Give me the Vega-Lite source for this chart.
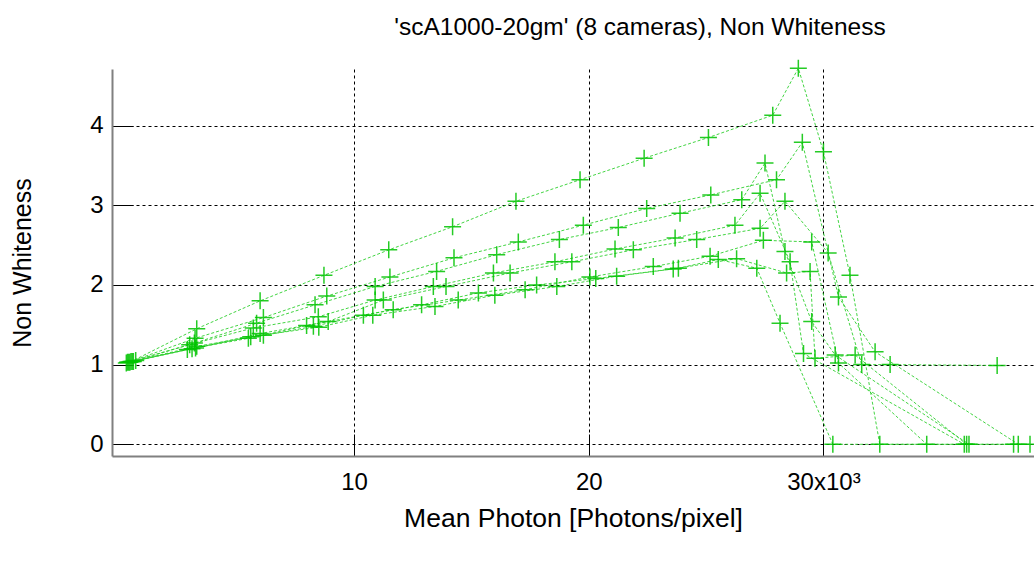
{
  "$schema": "https://vega.github.io/schema/vega-lite/v6.json",
  "autosize": "none",
  "width": 922,
  "height": 387,
  "padding": {"left": 112, "top": 69, "right": 0, "bottom": 105},
  "background": "white",
  "config": {"view": {"stroke": null}, "font": "Liberation Sans"},
  "title": {"text": "'scA1000-20gm' (8 cameras), Non Whiteness", "font": "Liberation Sans", "fontSize": 24.5, "fontWeight": "normal", "color": "black", "anchor": "middle", "dx": 67, "offset": 16},
  "data": {"values": [
    {"s":"A","i":0,"x":450,"y":1.03},{"s":"A","i":1,"x":3300,"y":1.45},{"s":"A","i":2,"x":6000,"y":1.80},{"s":"A","i":3,"x":8720,"y":2.12},{"s":"A","i":4,"x":11480,"y":2.44},{"s":"A","i":5,"x":14200,"y":2.73},{"s":"A","i":6,"x":16900,"y":3.05},{"s":"A","i":7,"x":19630,"y":3.32},{"s":"A","i":8,"x":22360,"y":3.59},{"s":"A","i":9,"x":25100,"y":3.85},{"s":"A","i":10,"x":27840,"y":4.13},{"s":"A","i":11,"x":28930,"y":4.72},{"s":"A","i":12,"x":30000,"y":3.67},{"s":"A","i":13,"x":31130,"y":2.12},{"s":"A","i":14,"x":32400,"y":0},{"s":"A","i":15,"x":38800,"y":0},
    {"s":"B","i":0,"x":500,"y":1.04},{"s":"B","i":1,"x":3230,"y":1.33},{"s":"B","i":2,"x":6140,"y":1.59},{"s":"B","i":3,"x":8840,"y":1.86},{"s":"B","i":4,"x":11530,"y":2.10},{"s":"B","i":5,"x":14260,"y":2.34},{"s":"B","i":6,"x":17000,"y":2.54},{"s":"B","i":7,"x":19770,"y":2.75},{"s":"B","i":8,"x":22470,"y":2.96},{"s":"B","i":9,"x":25200,"y":3.13},{"s":"B","i":10,"x":28000,"y":3.32},{"s":"B","i":11,"x":29100,"y":3.79},{"s":"B","i":12,"x":30640,"y":1.85},{"s":"B","i":13,"x":32200,"y":1.16},{"s":"B","i":14,"x":38300,"y":0},
    {"s":"C","i":0,"x":600,"y":1.04},{"s":"C","i":1,"x":3200,"y":1.27},{"s":"C","i":2,"x":5850,"y":1.52},{"s":"C","i":3,"x":8340,"y":1.75},{"s":"C","i":4,"x":10900,"y":1.98},{"s":"C","i":5,"x":13520,"y":2.17},{"s":"C","i":6,"x":16080,"y":2.38},{"s":"C","i":7,"x":18750,"y":2.57},{"s":"C","i":8,"x":21260,"y":2.72},{"s":"C","i":9,"x":23890,"y":2.90},{"s":"C","i":10,"x":26520,"y":3.07},{"s":"C","i":11,"x":27510,"y":3.53},{"s":"C","i":12,"x":28360,"y":2.42},{"s":"C","i":13,"x":29500,"y":1.54},{"s":"C","i":14,"x":30500,"y":1.12},{"s":"C","i":15,"x":36200,"y":0},
    {"s":"D","i":0,"x":350,"y":1.03},{"s":"D","i":1,"x":3000,"y":1.25},{"s":"D","i":2,"x":5710,"y":1.46},{"s":"D","i":3,"x":8480,"y":1.60},{"s":"D","i":4,"x":10900,"y":1.81},{"s":"D","i":5,"x":13380,"y":1.98},{"s":"D","i":6,"x":15940,"y":2.15},{"s":"D","i":7,"x":18560,"y":2.29},{"s":"D","i":8,"x":21120,"y":2.45},{"s":"D","i":9,"x":23680,"y":2.59},{"s":"D","i":10,"x":26230,"y":2.75},{"s":"D","i":11,"x":27300,"y":3.15},{"s":"D","i":12,"x":28580,"y":2.29},{"s":"D","i":13,"x":29150,"y":1.14},{"s":"D","i":14,"x":36000,"y":0},
    {"s":"E","i":0,"x":550,"y":1.04},{"s":"E","i":1,"x":3250,"y":1.21},{"s":"E","i":2,"x":6000,"y":1.39},{"s":"E","i":3,"x":8900,"y":1.54},{"s":"E","i":4,"x":11250,"y":1.81},{"s":"E","i":5,"x":13920,"y":1.98},{"s":"E","i":6,"x":16650,"y":2.15},{"s":"E","i":7,"x":19280,"y":2.29},{"s":"E","i":8,"x":21900,"y":2.44},{"s":"E","i":9,"x":24600,"y":2.57},{"s":"E","i":10,"x":27300,"y":2.71},{"s":"E","i":11,"x":28360,"y":3.05},{"s":"E","i":12,"x":30200,"y":2.40},{"s":"E","i":13,"x":31630,"y":1.0},{"s":"E","i":14,"x":32840,"y":1.0},{"s":"E","i":15,"x":37400,"y":0.99},
    {"s":"F","i":0,"x":700,"y":1.05},{"s":"F","i":1,"x":3300,"y":1.23},{"s":"F","i":2,"x":6140,"y":1.37},{"s":"F","i":3,"x":7980,"y":1.49},{"s":"F","i":4,"x":11670,"y":1.69},{"s":"F","i":5,"x":14440,"y":1.81},{"s":"F","i":6,"x":17290,"y":1.94},{"s":"F","i":7,"x":20050,"y":2.10},{"s":"F","i":8,"x":22750,"y":2.23},{"s":"F","i":9,"x":25170,"y":2.36},{"s":"F","i":10,"x":27440,"y":2.56},{"s":"F","i":11,"x":29500,"y":2.54},{"s":"F","i":12,"x":30640,"y":1.02},{"s":"F","i":13,"x":34400,"y":0},
    {"s":"G","i":0,"x":300,"y":1.02},{"s":"G","i":1,"x":2900,"y":1.19},{"s":"G","i":2,"x":5500,"y":1.33},{"s":"G","i":3,"x":8270,"y":1.48},{"s":"G","i":4,"x":10400,"y":1.62},{"s":"G","i":5,"x":12880,"y":1.75},{"s":"G","i":6,"x":15300,"y":1.90},{"s":"G","i":7,"x":17780,"y":2.0},{"s":"G","i":8,"x":20300,"y":2.08},{"s":"G","i":9,"x":23820,"y":2.21},{"s":"G","i":10,"x":25520,"y":2.32},{"s":"G","i":11,"x":27160,"y":2.21},{"s":"G","i":12,"x":28150,"y":1.52},{"s":"G","i":13,"x":30400,"y":0},{"s":"G","i":14,"x":38100,"y":0},
    {"s":"H","i":0,"x":400,"y":1.03},{"s":"H","i":1,"x":3100,"y":1.20},{"s":"H","i":2,"x":5600,"y":1.35},{"s":"H","i":3,"x":8500,"y":1.47},{"s":"H","i":4,"x":10800,"y":1.62},{"s":"H","i":5,"x":13450,"y":1.73},{"s":"H","i":6,"x":16000,"y":1.87},{"s":"H","i":7,"x":18640,"y":1.98},{"s":"H","i":8,"x":21190,"y":2.11},{"s":"H","i":9,"x":23600,"y":2.20},{"s":"H","i":10,"x":26300,"y":2.33},{"s":"H","i":11,"x":28430,"y":2.15},{"s":"H","i":12,"x":29430,"y":2.17},{"s":"H","i":13,"x":29640,"y":1.08},{"s":"H","i":14,"x":31350,"y":1.12},{"s":"H","i":15,"x":36100,"y":0}
  ]},
  "encoding": {
    "x": {"field": "x", "type": "quantitative",
      "scale": {"domain": [-310, 38970], "nice": false, "zero": false},
      "axis": {"values": [10000, 20000, 30000], "title": "Mean Photon [Photons/pixel]",
        "labelExpr": "datum.value == 30000 ? '30x10³' : format(datum.value / 1000, 'd')",
        "grid": true, "gridColor": "black", "gridDash": [3, 3], "gridOpacity": 1, "gridWidth": 1,
        "domainColor": "#808080", "domainWidth": 2,
        "ticks": true, "tickColor": "black", "tickSize": -22, "tickWidth": 1,
        "labelFont": "Liberation Sans", "labelFontSize": 24, "labelColor": "black", "labelPadding": 36, "labelFlush": false,
        "titleFont": "Liberation Sans", "titleFontSize": 26.5, "titleFontWeight": "normal", "titleColor": "black",
        "titleBaseline": "middle", "titleY": 62}},
    "y": {"field": "y", "type": "quantitative",
      "scale": {"domain": [-0.147, 4.71], "nice": false, "zero": false},
      "axis": {"values": [0, 1, 2, 3, 4], "title": "Non Whiteness",
        "grid": true, "gridColor": "black", "gridDash": [3, 3], "gridOpacity": 1, "gridWidth": 1,
        "domainColor": "#808080", "domainWidth": 2,
        "ticks": true, "tickColor": "black", "tickSize": -21, "tickWidth": 1,
        "labelFont": "Liberation Sans", "labelFontSize": 24, "labelColor": "black", "labelPadding": 30,
        "titleFont": "Liberation Sans", "titleFontSize": 25, "titleFontWeight": "normal", "titleColor": "black",
        "titleBaseline": "middle", "titleX": -90, "titleAngle": -90}}
  },
  "layer": [
    {"mark": {"type": "line", "stroke": "#22cc22", "strokeWidth": 1, "strokeDash": [3, 2], "opacity": 0.85, "clip": true},
     "encoding": {"detail": {"field": "s"}, "order": {"field": "i", "type": "quantitative"}}},
    {"mark": {"type": "point", "shape": "M-1,0H1M0,-1V1", "size": 289, "filled": false, "stroke": "#00c400", "strokeWidth": 1.5, "opacity": 0.85},
     "encoding": {}}
  ]
}
